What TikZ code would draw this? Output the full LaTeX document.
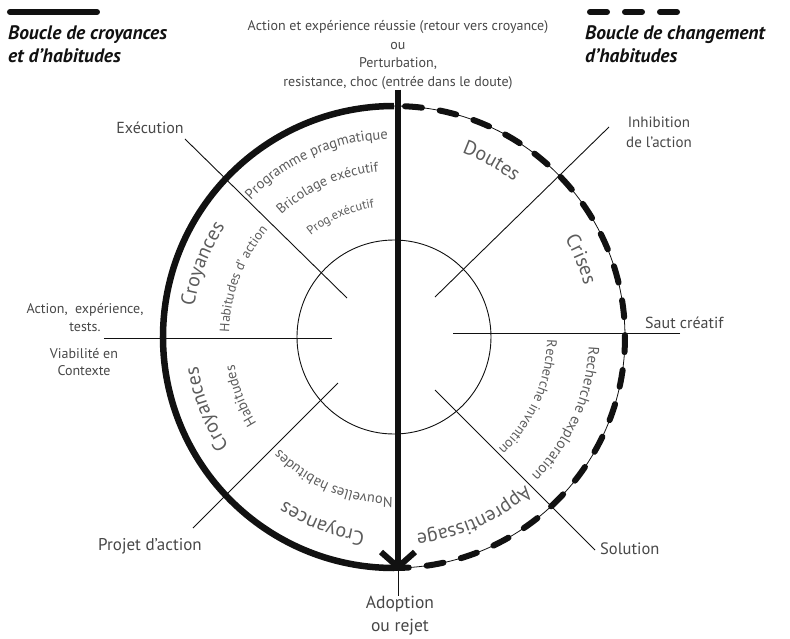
\documentclass[tikz,border=0pt]{standalone}
\usepackage{fontspec}
\setmainfont{PT Sans}
\usepackage{xcolor}
\usepackage{tikz}
\usetikzlibrary{arrows.meta,decorations.text}
\definecolor{cink}{HTML}{111111}
\definecolor{cgrey}{HTML}{5C5C5C}
\definecolor{clabel}{HTML}{474747}

% text set on an arc of the ring: radius, middle angle, font size, text
\newcommand{\ringlabel}[4]{%
  \path[decorate,decoration={text along path,text align=center,
      text={|\fontsize{#3}{#3}\selectfont\color{cgrey}|#4}}]
    ({#2+70}:#1pt) arc[start angle={#2+70},end angle={#2-70},radius=#1pt];}

\begin{document}
\begin{tikzpicture}[x=1pt,y=1pt,
    lbl/.style={clabel,font=\fontsize{16}{18}\selectfont,align=center,inner sep=0pt},
    leg/.style={cink,font=\fontsize{19.5}{23}\selectfont\bfseries\itshape,align=left,inner sep=0pt,anchor=north west},
    rule/.style={cink,line width=0.9pt},
    dashloop/.style={cink,line width=6pt,line cap=round,dash pattern=on 17pt off 18pt}]
    \useasboundingbox (-394,-301) rectangle (396,337);

    % legend
    \draw[cink,line width=6pt,line cap=round] (-384,325) -- (-297,325);
    \node[leg] (legA) at (-386,312) {Boucle de croyances\\et d'habitudes};
    \draw[dashloop] (196,325) -- (284,325);
    \node[leg] (legB) at (191,312) {Boucle de changement\\d'habitudes};

    % ring
    \draw[rule] (0,0) circle[radius=97pt];
    \draw[cink,line width=0.8pt] (90:231pt) arc[start angle=90,end angle=-90,radius=231pt];
    \draw[dashloop,dash phase=24pt] (90:231pt) arc[start angle=90,end angle=-90,radius=231pt];
    \draw[cink,line width=6.5pt] (90:231pt) arc[start angle=90,end angle=270,radius=231pt];

    % sector lines
    \coordinate (exA) at (-209,198);  \coordinate (exB) at (-47,39);
    \coordinate (inA) at (215,210);   \coordinate (inB) at (41,40);
    \coordinate (acA) at (-290,-1);   \coordinate (acB) at (-62,-1);
    \coordinate (saA) at (286,4);     \coordinate (saB) at (59,4);
    \coordinate (soA) at (201,-213);  \coordinate (soB) at (41,-53);
    \coordinate (prA) at (-201,-191); \coordinate (prB) at (-56,-46);
    \draw[rule] (exA) -- (exB);
    \draw[rule] (inA) -- (inB);
    \draw[rule] (acA) -- (acB);
    \draw[rule] (saA) -- (saB);
    \draw[rule] (soA) -- (soB);
    \draw[rule] (prA) -- (prB);

    % outer labels
    \node[lbl,font=\fontsize{14}{18.5}\selectfont] (topnote) at (4,282)
      {Action et expérience réussie (retour vers croyance)\\ou\\Perturbation,\\resistance, choc (entrée dans le doute)};
    \node[lbl] (exec) at (-244,209) {Exécution};
    \node[lbl,font=\fontsize{15}{20}\selectfont] (inhib) at (265,205) {Inhibition\\de l'action};
    \node[lbl,anchor=west] (saut) at (251,14) {Saut créatif};
    \node[lbl,anchor=west,font=\fontsize{16.5}{18}\selectfont] (sol) at (206,-212) {Solution};
    \node[lbl,font=\fontsize{17}{18}\selectfont] (projet) at (-244,-209) {Projet d'action};
    \node[lbl,font=\fontsize{14}{18}\selectfont] (tests) at (-309,19) {Action,\ \ expérience,\\tests.};
    \node[lbl,font=\fontsize{14}{17}\selectfont] (viab) at (-310,-25) {Viabilité en\\Contexte};
    \node[lbl,font=\fontsize{17.5}{23}\selectfont] (adopt) at (6,-279) {Adoption\\ou rejet};

    % decision arrow
    \coordinate (tip) at (4,-234);
    \draw[cink,line width=6pt,-{Straight Barb[length=15pt,width=34pt]}] (topnote.south) -- (tip);
    \draw[rule] (tip) -- (tip |- adopt.north);

    % ring texts
    \ringlabel{198}{114}{14.5}{Programme pragmatique}
    \ringlabel{166}{114}{14}{Bricolage exécutif}
    \ringlabel{131}{114}{12.5}{Prog.exécutif}
    \ringlabel{202}{159}{20}{Croyances}
    \ringlabel{165}{159}{13.5}{Habitudes d' action}
    \ringlabel{196}{61}{20}{Doutes}
    \ringlabel{197}{22.5}{20}{Crises}
    \ringlabel{195}{-24}{15}{Recherche exploration}
    \ringlabel{153}{-24}{14}{Recherche invention}
    \ringlabel{198}{-66}{20}{Apprentissage}
    \ringlabel{197}{-111}{20}{Croyances}
    \ringlabel{160}{-113}{14.5}{Nouvelles habitudes}
    \ringlabel{198}{201}{20}{Croyances}
    \ringlabel{162}{201}{14.5}{Habitudes}
\end{tikzpicture}
\end{document}
